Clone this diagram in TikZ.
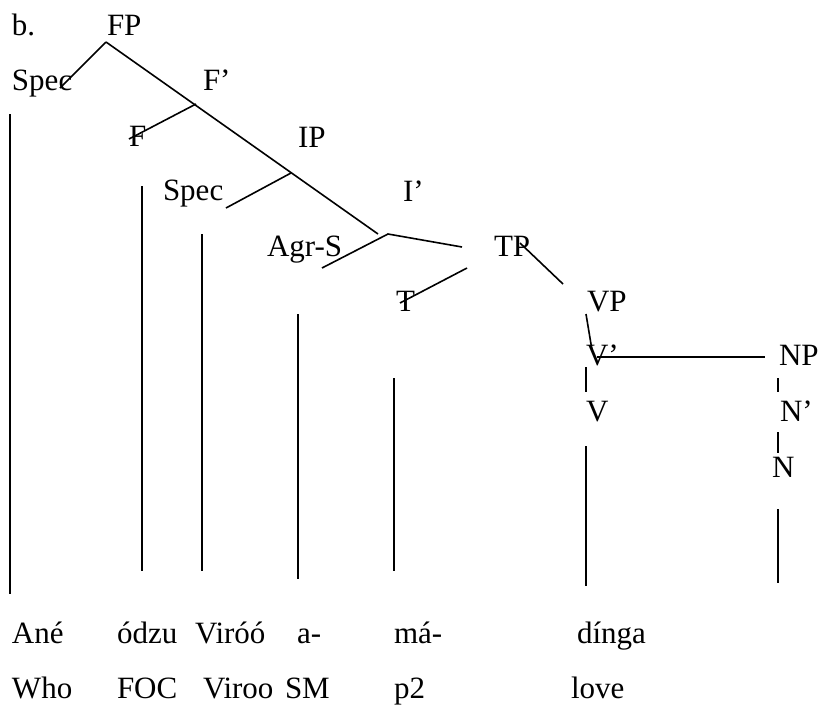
\documentclass[tikz,border=0pt]{standalone}
\usepackage{fontspec}
\setmainfont{Liberation Serif}
\begin{document}
\begin{tikzpicture}[x=1pt,y=-1pt,
  lbl/.style={anchor=base west,inner sep=0pt,outer sep=0pt,font=\fontsize{31}{37}\selectfont},
  br/.style={line width=1.6pt,line cap=butt}]
\useasboundingbox (0,0) rectangle (821,705);
% labels
\node[lbl] (b) at (12,35) {b.};
\node[lbl] (FP) at (107,35) {FP};
\node[lbl] (SpecA) at (12,90) {Spec};
\node[lbl] (Fbar) at (203,90) {F’};
\node[lbl] (F) at (129,146) {F};
\node[lbl] (IP) at (298,147) {IP};
\node[lbl] (SpecB) at (163,200) {Spec};
\node[lbl] (Ibar) at (403,201) {I’};
\node[lbl] (AgrS) at (267,256) {Agr-S};
\node[lbl] (TP) at (494,256) {TP};
\node[lbl] (T) at (396,311) {T};
\node[lbl] (VP) at (587,311) {VP};
\node[lbl] (Vbar) at (586,365) {V’};
\node[lbl] (NP) at (779,365) {NP};
\node[lbl] (V) at (586,421) {V};
\node[lbl] (Nbar) at (780,421) {N’};
\node[lbl] (N) at (772,477) {N};
\node[lbl] (w1) at (12,643) {Ané};
\node[lbl] (w2) at (117,643) {ódzu};
\node[lbl] (w3) at (195,643) {Viróó};
\node[lbl] (w4) at (297,643) {a-};
\node[lbl] (w5) at (394,643) {má-};
\node[lbl] (w6) at (577,643) {dínga};
\node[lbl] (g1) at (12,698) {Who};
\node[lbl] (g2) at (117,698) {FOC};
\node[lbl] (g3) at (203,698) {Viroo};
\node[lbl] (g4) at (285,698) {SM};
\node[lbl] (g5) at (394,698) {p2};
\node[lbl] (g6) at (571,698) {love};
% branch points
\coordinate (fp) at (106,42);
\coordinate (specAend) at (60,88);
\coordinate (fbarpt) at (196,104);
\coordinate (fend) at (129,139);
\coordinate (ippt) at (291,173);
\coordinate (specBend) at (226,208);
\coordinate (diagend) at (378,234);
\coordinate (ibarpt) at (388,234);
\coordinate (agrend) at (322,268);
\coordinate (tpend) at (462,247);
\coordinate (tstart) at (467,268);
\coordinate (tend) at (400,303);
\coordinate (tpstart) at (520,243);
\coordinate (vpend) at (563,284);
\coordinate (vpstart) at (586,314);
\coordinate (vbarend) at (592,350);
\coordinate (hstart) at (597,357);
\coordinate (hend) at (765,357);
\coordinate (vv1) at (586,367);
\coordinate (vv2) at (586,392);
\coordinate (vd1) at (586,446);
\coordinate (vd2) at (586,586);
\coordinate (nn1) at (778,378);
\coordinate (nn2) at (778,392);
\coordinate (nn3) at (778,432);
\coordinate (nn4) at (778,453);
\coordinate (nd1) at (778,509);
\coordinate (nd2) at (778,583);
\coordinate (l1a) at (10,114);  \coordinate (l1b) at (10,594);
\coordinate (l2a) at (142,186); \coordinate (l2b) at (142,571);
\coordinate (l3a) at (202,234); \coordinate (l3b) at (202,571);
\coordinate (l4a) at (298,314); \coordinate (l4b) at (298,579);
\coordinate (l5a) at (394,378); \coordinate (l5b) at (394,571);
% branches
\draw[br] (fp) -- (specAend);
\draw[br] (fp) -- (diagend);
\draw[br] (fbarpt) -- (fend);
\draw[br] (ippt) -- (specBend);
\draw[br] (agrend) -- (ibarpt) -- (tpend);
\draw[br] (tstart) -- (tend);
\draw[br] (tpstart) -- (vpend);
\draw[br] (vpstart) -- (vbarend);
\draw[br] (hstart) -- (hend);
\draw[br] (vv1) -- (vv2);
\draw[br] (vd1) -- (vd2);
\draw[br] (nn1) -- (nn2);
\draw[br] (nn3) -- (nn4);
\draw[br] (nd1) -- (nd2);
\draw[br] (l1a) -- (l1b);
\draw[br] (l2a) -- (l2b);
\draw[br] (l3a) -- (l3b);
\draw[br] (l4a) -- (l4b);
\draw[br] (l5a) -- (l5b);
\end{tikzpicture}
\end{document}
